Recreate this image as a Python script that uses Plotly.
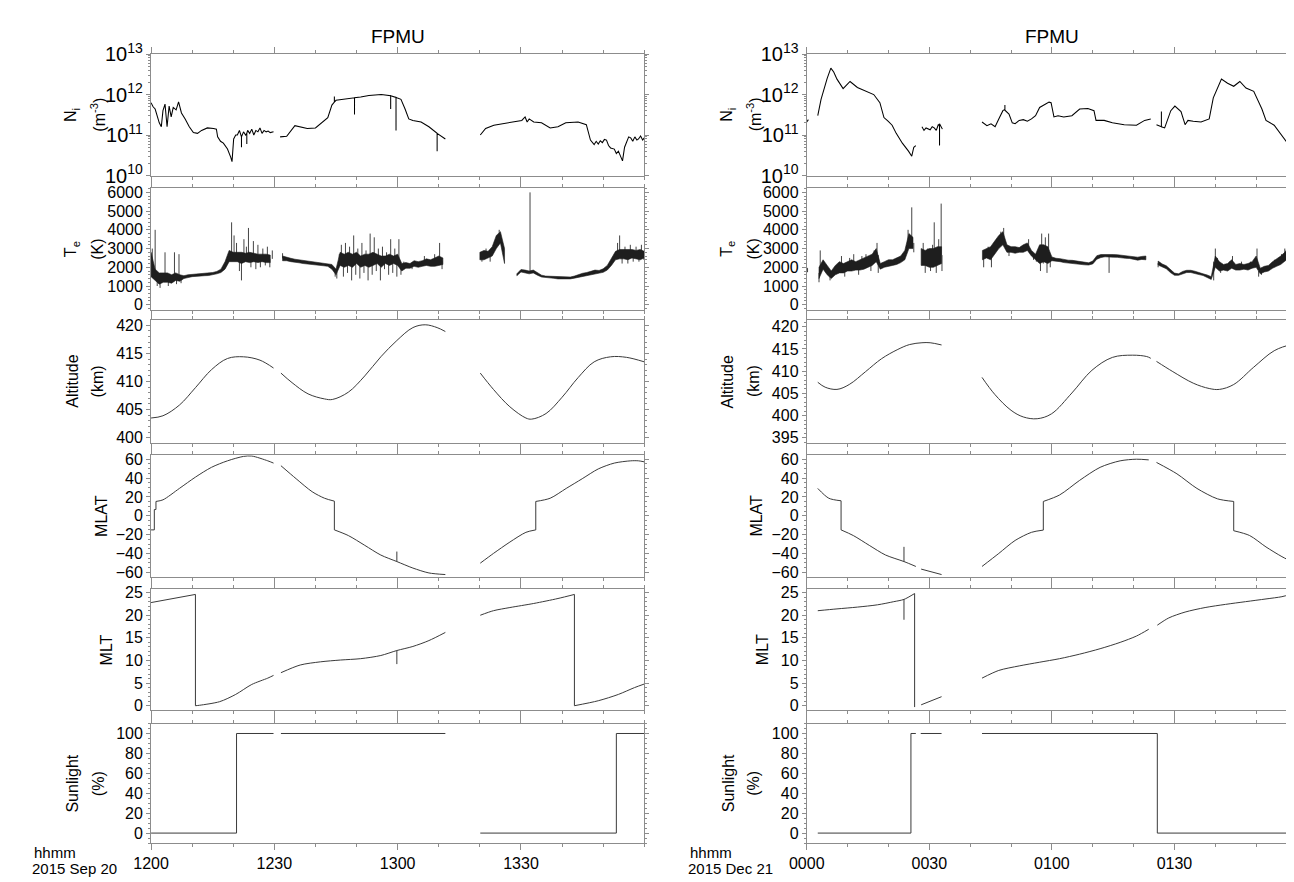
import plotly.graph_objects as go
from plotly.subplots import make_subplots

W, H = 1294, 882

# ---------------- data (minutes after start of each pass) ----------------
x_tickvals = [0, 30, 60, 90]
x_ticktext_l = ['1200', '1230', '1300', '1330']
x_ticktext_r = ['0000', '0030', '0100', '0130']
date_l = '2015 Sep 20'
date_r = '2015 Dec 21'

# Ion density, left pass
ni_l_t = [0.0, 0.5, 1.0, 1.5, 2.0, 2.5, 2.9, 3.4, 3.9, 4.4, 4.9, 5.4, 6.1, 6.7, 7.4, 8.3, 9.3, 10.3, 11.3,
          12.3, 13.7, 15.2, 15.9, 16.2, 16.9, 17.6, 18.6, 19.4, 19.7, 20.1, 20.6, 21.0, 21.5, 22.0, 22.0,
          22.0, 22.5, 23.0, 23.3, 23.3, 23.3, 23.5, 24.0, 24.5, 25.0, 25.5, 26.0, 26.5, 27.0, 27.5, 28.0,
          28.5, 29.0, 29.8, 30.6,
          31.4, 33.0, 35.0, 36.0, 38.0, 40.0, 42.0, 43.0, 44.0, 44.6, 44.6, 44.6, 45.0, 46.0, 48.0, 49.5,
          49.5, 49.5, 51.0, 53.0, 56.0, 58.0, 58.3, 58.3, 58.3, 59.6, 59.6, 59.6, 59.8, 60.8, 61.8, 62.7,
          63.7, 65.7, 67.6, 69.6, 69.6, 69.6, 71.6, 76.0,
          80.1, 81.4, 83.4, 87.3, 90.2, 91.0, 91.5, 92.0, 93.1, 95.0, 97.1, 99.0, 100.9, 103.9, 105.9,
          106.9, 107.8, 108.3, 108.8, 109.3, 109.8, 110.3, 110.8, 111.3, 111.8, 112.7, 113.2, 113.7,
          114.2, 114.7, 115.2, 115.7, 116.2, 116.7, 117.2, 117.7, 118.2, 118.6, 119.1, 119.6, 120.0]
ni_l = [6.3e11, 5.0e11, 4.4e11, 2.8e11, 2.0e11, 1.6e11, 4.0e11, 5.8e11, 1.6e11, 5.2e11, 2.8e11, 4.8e11,
        4.2e11, 6.6e11, 3.5e11, 2.5e11, 1.6e11, 1.15e11, 1.1e11, 1.3e11, 1.5e11, 1.45e11, 1.4e11, 9e10,
        7e10, 6.3e10, 4.5e10, 2.8e10, 2.2e10, 8e10, 1.0e11, 1.0e11, 1.3e11, 0.9e11, 5e10, 0.9e11, 1.2e11,
        1.0e11, 1.1e11, 6e10, 1.1e11, 1.3e11, 1.1e11, 1.4e11, 1.0e11, 1.3e11, 1.2e11, 1.5e11, 1.1e11,
        1.3e11, 1.2e11, 1.25e11, 1.15e11, 1.2e11, None,
        9e10, 9.3e10, 1.7e11, 1.6e11, 1.45e11, 1.5e11, 2.2e11, 2.7e11, 5.5e11, 6.5e11, 9e11, 6.5e11,
        7.2e11, 7.5e11, 8.0e11, 8.3e11, 3.2e11, 8.3e11, 8.7e11, 9.5e11, 1.0e12, 9.5e11, 9.4e11, 4.4e11,
        9.4e11, 8.5e11, 1.3e11, 8.5e11, 8.3e11, 7.6e11, 4.4e11, 2.5e11, 2.3e11, 2.1e11, 1.6e11, 1.1e11,
        4e10, 1.1e11, 8e10, None,
        1e11, 1.45e11, 1.75e11, 2.0e11, 2.3e11, 2.8e11, 2.1e11, 2.5e11, 2.1e11, 2.0e11, 1.5e11, 1.6e11,
        2.0e11, 2.1e11, 1.8e11, 7.5e10, 5.8e10, 7e10, 6e10, 7.2e10, 6.5e10, 7.8e10, 7.5e10, 5.5e10,
        4.8e10, 4.5e10, 3.5e10, 4e10, 3e10, 2.3e10, 5e10, 6.5e10, 9e10, 8.5e10, 7e10, 9e10, 7.5e10,
        8e10, 9.5e10, 7.5e10, 8.5e10]

# Ion density, right pass
ni_r_t = [0.0, 0.4, 1.5, 2.7, 3.5, 5.0, 5.9, 6.6, 7.4, 8.9, 10.6, 12.4, 14.4, 16.4, 17.9, 18.9, 19.9,
          20.9, 21.9, 23.4, 24.9, 25.7, 26.2, 26.7, 27.4,
          28.2, 28.7, 29.2, 29.7, 30.2, 30.7, 31.2, 31.7, 32.2, 32.5, 32.5, 32.5, 33.2, 38.0,
          42.9, 44.1, 45.1, 46.1, 47.0, 48.0, 48.5, 48.5, 48.5, 49.5, 50.3, 51.0, 52.0, 53.0, 54.0, 55.0,
          56.0, 57.0, 58.5, 59.3, 59.8, 60.5, 61.5, 62.9, 64.9, 66.8, 68.8, 70.3, 70.8, 72.8, 74.8, 77.7,
          80.7, 82.7, 84.2, 84.9,
          85.6, 86.3, 86.8, 86.8, 86.8, 87.6, 89.1, 90.1, 91.6, 92.6, 93.3, 94.6, 96.5, 98.5, 99.5, 101.5,
          103.0, 104.5, 106.0, 107.5, 109.4, 111.4, 112.4, 114.4, 116.3, 118.3, 119.8, 120.0]
ni_r = [2.1e11, 2.4e11, None, 3.0e11, 7.6e11, 2.5e12, 4.5e12, 3.6e12, 2.4e12, 1.4e12, 2.1e12, 1.5e12,
        1.2e12, 1.0e12, 6.3e11, 2.7e11, 2.2e11, 1.75e11, 1.1e11, 6.3e10, 4e10, 3e10, 5e10, 5.5e10, None,
        1.6e11, 1.3e11, 1.5e11, 1.4e11, 1.35e11, 1.6e11, 1.5e11, 1.3e11, 1.8e11, 1.7e11, 5.5e10, 1.9e11,
        1.4e11, None,
        2.1e11, 1.7e11, 1.9e11, 1.6e11, 2.5e11, 4e11, 4.3e11, 5.5e11, 4.1e11, 3.3e11, 2.0e11, 1.9e11,
        2.3e11, 2.4e11, 2.2e11, 2.5e11, 3e11, 4.8e11, 5.8e11, 6.5e11, 6.3e11, 2.8e11, 3.0e11, 2.8e11,
        3.0e11, 4.4e11, 4.5e11, 4.0e11, 2.3e11, 2.3e11, 2.0e11, 1.8e11, 1.75e11, 2.3e11, 2.5e11, None,
        1.8e11, 1.7e11, 1.6e11, 3.8e11, 1.6e11, 1.5e11, 4e11, 5.2e11, 3.8e11, 1.8e11, 2.3e11, 2.2e11,
        2.1e11, 2.5e11, 8.3e11, 2.4e12, 1.9e12, 1.6e12, 2.1e12, 1.45e12, 1.2e12, 4.4e11, 2.3e11, 1.75e11,
        1e11, 5.2e10, 3.3e10, 3e10]

# Electron temperature: dense core band per minute (lower / upper edge, None = no data)
te_minutes = list(range(121))
N = None
te_l_lo = [1500, 1300, 1100, 1200, 1200, 1150, 1300, 1250, 1400, 1450, 1500, 1530, 1540, 1550, 1560, 1600,
           1650, 1720, 1900, 2300, 2300, 2300, 2200, 2300, 2250, 2300, 2250, 2300, 2250, 2250, N, N,
           2350, 2350, 2300, 2260, 2240, 2200, 2170, 2150, 2120, 2100, 2080, 2050, 1900, 1600, 2100, 2000,
           2100, 2000, 2200, 2000, 2100, 2000, 2100, 2200, 2000, 2200, 2100, 2200, 2100, 1800, 1950, 1950,
           2050, 2000, 2050, 2100, 2050, 2050, 2100, 2150, N, N, N, N, N, N, N, N,
           2400, 2400, 2500, 2600, 3000, 3300, 2200, N, N,
           1550, 1750, 1680, 1650, 1700, 1580, 1480, 1430, 1420, 1410, 1380, 1380, 1370, 1380, 1420, 1470,
           1520, 1570, 1620, 1640, 1680, 1730, 1850, 2100, 2400, 2450, 2450, 2400, 2500, 2450, 2400, 2500]
te_l_hi = [2800, 1900, 1700, 1700, 1700, 1600, 1700, 1600, 1550, 1600, 1620, 1640, 1640, 1660, 1680, 1720,
           1780, 1900, 2300, 2900, 2800, 2800, 2800, 2750, 2800, 2750, 2700, 2700, 2700, 2650, N, N,
           2600, 2520, 2480, 2430, 2400, 2350, 2320, 2300, 2260, 2240, 2220, 2200, 2150, 1900, 2800, 2700,
           2800, 2700, 2800, 2600, 2700, 2700, 2800, 2700, 2600, 2600, 2700, 2600, 2700, 2200, 2250, 2200,
           2350, 2300, 2350, 2450, 2400, 2500, 2600, 2500, N, N, N, N, N, N, N, N,
           2800, 2900, 2850, 3100, 3700, 3900, 3000, N, N,
           1650, 1880, 1850, 1800, 1850, 1700, 1580, 1530, 1520, 1490, 1480, 1470, 1450, 1480, 1530, 1620,
           1680, 1720, 1770, 1850, 1830, 1920, 2100, 2500, 2850, 2950, 2950, 2950, 2950, 2900, 2950, 2850]
te_r_lo = [1750, N, N, 1400, 1900, 1600, 1400, 1600, 1700, 1700, 1800, 1800, 1850, 1850, 1900, 2000, 2100,
           2300, 1900, 2000, 2050, 2100, 2150, 2250, 2400, 3000, 3000, N, 2100, 2100, 2000, 2000, 2100,
           2200, N, N, N, N, N, N, N, N, N,
           2400, 2500, 2400, 2700, 3000, 3200, 2800, 2800, 2750, 2800, 2800, 2900, 2600, 2400, 2200, 2300,
           2200, 2350, 2320, 2300, 2250, 2230, 2220, 2180, 2150, 2130, 2120, 2180, 2430, 2520, 2560, 2560,
           2540, 2530, 2520, 2480, 2470, 2430, 2380, 2420, 2400, N, N,
           2120, 2020, 1920, 1720, 1570, 1570, 1660, 1720, 1720, 1670, 1610, 1560, 1470, 1350, 2000, 1800,
           1850, 1800, 1950, 1850, 1850, 1900, 1850, 1950, 2000, 1650, 1750, 1800, 1950, 2050, 2150, 2300,
           2500, 2500, 2700]
te_r_hi = [1950, N, N, 2000, 2400, 2100, 1800, 2100, 2300, 2200, 2300, 2400, 2300, 2400, 2500, 2600, 2700,
           3000, 2200, 2300, 2400, 2400, 2500, 2600, 2900, 3800, 3600, N, 3000, 2900, 3000, 3000, 3100,
           3100, N, N, N, N, N, N, N, N, N,
           2900, 3000, 3100, 3400, 3700, 3900, 3200, 3100, 3100, 3050, 3200, 3300, 2900, 2700, 3200, 3200,
           3100, 2550, 2480, 2460, 2400, 2380, 2370, 2330, 2280, 2270, 2240, 2330, 2620, 2680, 2690, 2700,
           2680, 2670, 2640, 2630, 2620, 2580, 2540, 2580, 2600, N, N,
           2330, 2180, 2080, 1880, 1690, 1650, 1780, 1840, 1840, 1790, 1700, 1650, 1590, 1500, 2600, 2300,
           2150, 2200, 2400, 2150, 2200, 2150, 2200, 2300, 2600, 1950, 2050, 2100, 2300, 2450, 2600, 2800,
           3100, 3300, 3500]

# Electron temperature: isolated excursions (time, value) that stick out of the core band
te_l_spk_t = [0.3, 1.0, 1.5, 2.2, 3.4, 4.2, 5.7, 6.2, 6.8, 7.3, 19.6, 20.2, 20.8, 21.5, 22.0, 22.6, 23.2,
              23.7, 24.3, 24.9, 25.5, 26.0, 26.6, 27.2, 27.8, 28.3, 28.9, 29.5, 32.0, 44.8, 45.2, 45.8,
              46.3, 46.8, 47.3, 47.8, 48.3, 48.8, 49.3, 49.8, 50.3, 50.8, 51.3, 51.8, 52.3, 52.8, 53.3,
              53.8, 54.3, 54.8, 55.3, 55.8, 56.3, 56.8, 57.3, 57.8, 58.3, 58.8, 59.3, 59.8, 60.3, 60.8,
              61.5, 63.5, 66.5, 69.0, 70.2, 70.8, 80.5, 81.5, 82.5, 83.3, 84.7, 92.2, 111.8, 113.5, 114.0,
              114.6, 115.3, 116.0, 116.6, 117.3, 118.0, 118.7, 119.3, 119.9]
te_l_spk = [3000, 4000, 1000, 900, 2800, 1000, 2800, 1100, 2700, 1150, 4400, 3700, 3300, 1800, 1300, 3500,
            3100, 4100, 2000, 3400, 1900, 3200, 2000, 3000, 2100, 3100, 2000, 2900, 2750, 1500, 1400, 2700,
            3200, 1500, 3300, 1700, 3100, 1300, 3700, 1600, 3000, 1400, 3300, 1700, 2900, 1300, 3800, 1600,
            3600, 1800, 3000, 1300, 3100, 1900, 2800, 1600, 3500, 1700, 3000, 1500, 3500, 1600, 2300, 1900,
            2600, 2700, 3300, 1900, 2300, 3000, 2300, 3200, 4000, 6000, 2300, 3300, 3700, 2200, 3100, 2200,
            3200, 2300, 3100, 2300, 3200, 2400]
te_r_spk_t = [3.0, 3.3, 5.7, 8.5, 9.3, 10.5, 11.5, 12.7, 13.5, 14.5, 15.7, 16.5, 17.2, 17.5, 24.8, 25.7,
              26.2, 28.5, 29.0, 29.6, 30.3, 30.8, 31.2, 31.7, 32.3, 32.9, 33.1, 43.3, 44.4, 45.2, 45.8,
              46.6, 47.5, 48.2, 49.5, 54.3, 55.5, 56.2, 57.2, 57.5, 57.9, 58.4, 58.8, 59.2, 59.6, 74.0,
              86.0, 99.6, 100.0, 100.5, 101.3, 103.5, 104.2, 106.4, 108.6, 109.6, 110.2, 110.6, 111.3,
              114.5, 116.2, 117.0, 118.2, 119.0, 119.5, 120.0]
te_r_spk = [1200, 2900, 1300, 2600, 1500, 2500, 2700, 1600, 2600, 2700, 1800, 2900, 3300, 1700, 4000, 5200,
            2800, 3300, 1700, 3000, 1800, 3200, 4400, 1700, 3500, 5400, 1800, 2000, 3100, 2000, 3200, 3500,
            3900, 4100, 2600, 3500, 2400, 2300, 1800, 3800, 2200, 3600, 1700, 3800, 2000, 1700, 2000, 1300,
            3000, 2500, 1700, 2300, 2600, 2300, 2300, 2400, 3000, 1500, 1600, 2400, 2700, 3000, 3200, 4400,
            2400, 3700]

# Altitude (km)
alt_l_t = [0, 2.9, 6.9, 10.8, 14.7, 18.6, 22.5, 26.5, 29.8, 30.6, 31.6, 34.3, 38.2, 42.2, 44.1, 48, 52,
           55.9, 59.8, 63.7, 66.7, 69.6, 71.6, 76, 80.1, 83.3, 87.3, 91.2, 92.6, 96.1, 100, 103.9, 107.8,
           111.8, 115.7, 120]
alt_l = [403.5, 403.9, 405.8, 408.9, 412.1, 414.1, 414.4, 413.8, 412.4, None, 411.5, 409.8, 407.8, 406.9,
         406.8, 408.1, 411.0, 414.4, 417.3, 419.6, 420.1, 419.6, 418.9, None, 411.5, 408.6, 405.5, 403.5,
         403.3, 404.3, 407.2, 410.7, 413.5, 414.4, 414.3, 413.5]
alt_r_t = [2.7, 4.5, 7.4, 10.4, 14.4, 18.3, 22.3, 25.2, 28.2, 30.2, 33.0, 38, 42.9, 46, 50, 53, 56.4,
           59.9, 64.9, 69.8, 74.8, 79.7, 83.2, 84.2, 84.9, 85.6, 89.6, 94.6, 98.5, 101, 104.5, 109.4,
           114.4, 118.3, 120]
alt_r = [407.5, 406.4, 405.9, 407.0, 409.9, 412.8, 414.9, 416.0, 416.4, 416.4, 415.9, None, 408.6, 404.8,
         401.2, 399.7, 399.3, 400.4, 405.1, 410.2, 413.1, 413.6, 413.3, 412.9, None, 412.2, 409.9, 407.3,
         406.1, 405.9, 407.0, 410.9, 414.6, 415.9, 416.0]

# Magnetic latitude (deg); each inner list is one continuous piece
mlat_l_t = [[0, 0.8], [0.8, 1.2], [1.2, 2.9, 6.9, 10.8, 14.7, 18.6, 22.5, 24.5, 28.4, 29.8],
            [31.6, 35.3, 39.2, 42.2, 44.6], [44.6, 48, 52, 55.9, 59.8, 63.7, 67.6, 71.6], [59.8, 59.8],
            [80.1, 83.3, 87.3, 91.2, 93.6], [93.6, 97.1, 101, 104.9, 108.8, 112.7, 116.7, 118.6, 120],
            [44.6, 44.6], [0.8, 0.8], [1.2, 1.2], [93.6, 93.6]]
mlat_l = [[-15, -15], [6.6, 6.6], [15.2, 16.9, 29, 41, 51.4, 58.3, 63, 63.4, 58.3, 55.9],
          [53.1, 39.3, 25.5, 18.6, 15.5], [-15, -21, -31.4, -41.7, -48.6, -55.5, -60.7, -62.4], [-48.6, -38],
          [-50.3, -40, -27.9, -17.6, -15], [15.2, 18.6, 29, 39.3, 49.7, 55.9, 58.3, 58.3, 57.2],
          [15.5, -15], [-15, 6.6], [6.6, 15.2], [-15, 15.2]]
mlat_r_t = [[2.7, 5.4, 8.4], [8.4, 11.4, 15.3, 19.3, 23.8, 26.7], [23.8, 23.8], [28, 33],
            [42.9, 47, 51, 55, 57.9], [57.9, 61.9, 66.8, 71.8, 76.7, 80.7, 83.7],
            [85.6, 90.6, 95.5, 100.5, 104.5], [104.5, 108.4, 112.4, 116.3, 120],
            [8.4, 8.4], [57.9, 57.9], [104.5, 104.5]]
mlat_r = [[29, 18.6, 15.9], [-15, -21, -31.4, -41.7, -48.6, -53.8], [-48.6, -33], [-56.6, -62.4],
          [-53.8, -40, -26.2, -17.6, -15.2], [15.2, 22.1, 37.6, 51.4, 58.3, 60, 59.3],
          [56.6, 44.5, 29, 18, 15.2], [-15.9, -21, -33.1, -43.4, -51.5],
          [15.9, -15], [-15.2, 15.2], [15.2, -15.9]]

# Magnetic local time (h)
mlt_l_t = [[0, 10.8], [10.8, 10.8], [10.8, 11.8, 16.7, 20.6, 24.5, 28.4, 29.8],
           [31.6, 36.3, 41.2, 46.1, 51, 55.9, 59.8, 63.7, 67.6, 71.6], [59.8, 59.8],
           [80.1, 83.3, 87.3, 93.1, 99, 103], [103, 103], [103, 108.8, 113.7, 117.6, 120]]
mlt_l = [[22.8, 24.6], [24.6, 0], [0, 0.1, 0.9, 2.5, 4.7, 6.1, 6.7],
         [7.3, 9.0, 9.7, 10.1, 10.4, 11.1, 12.2, 13.1, 14.4, 16.2], [12.2, 9.2],
         [20, 21, 21.7, 22.6, 23.7, 24.6], [24.6, 0], [0, 1.1, 2.5, 4.0, 4.8]]
mlt_r_t = [[2.7, 7.4, 12.4, 17.3, 21.3, 23.8, 26.4], [23.8, 23.8], [26.4, 26.4], [28, 33],
           [42.9, 47, 52, 56.9, 61.9, 66.8, 71.8, 76.7, 80.7, 83.7],
           [85.8, 88.6, 92.6, 97.5, 102.5, 107.4, 112.4, 116.3, 118.3], [118.3, 118.3], [118.3, 118.8, 120]]
mlt_r = [[21.0, 21.4, 21.8, 22.3, 23.0, 23.5, 24.8], [23.5, 19.0], [24.8, -0.3], [0.2, 2.0],
         [6.1, 7.8, 8.8, 9.6, 10.4, 11.4, 12.6, 14.0, 15.4, 16.9],
         [17.8, 19.4, 20.7, 21.7, 22.4, 23.0, 23.6, 24.1, 24.6], [24.6, -0.3], [-0.3, -0.2, 0.2]]

# Sunlight (%)
sun_l_t = [0, 20.8, 20.8, 29.8, 30.6, 31.6, 71.6, 76, 80.1, 113.2, 113.2, 120]
sun_l = [0, 0, 100, 100, None, 100, 100, None, 0, 0, 100, 100]
sun_r_t = [2.7, 25.5, 25.5, 26.7, 27.2, 27.9, 33.0, 38, 42.9, 85.8, 85.8, 118.1, 118.1, 120]
sun_r = [0, 0, 100, 100, None, 100, 100, None, 100, 100, 0, 0, 100, 100]


def band_polygons(minutes, lo, hi):
    """Closed outline of every continuous run of the core band."""
    xs, ys = [], []
    run = []
    for t, a, b in list(zip(minutes, lo, hi)) + [(None, None, None)]:
        if a is None:
            if run:
                if len(run) == 1:
                    t0, a0, b0 = run[0]
                    run = [(t0 - 0.2, a0, b0), (t0 + 0.2, a0, b0)]
                xs += [p[0] for p in run] + [p[0] for p in reversed(run)] + [run[0][0], None]
                ys += [p[2] for p in run] + [p[1] for p in reversed(run)] + [run[0][2], None]
            run = []
        else:
            run.append((t, a, b))
    return xs, ys


def needles(spk_t, spk_v, minutes, lo, hi):
    xs, ys = [], []
    for t, v in zip(spk_t, spk_v):
        i = min(range(len(minutes)), key=lambda k: abs(minutes[k] - t))
        if lo[i] is None:
            continue
        base = (lo[i] + hi[i]) / 2
        xs += [t, t, None]
        ys += [base, v, None]
    return xs, ys


# ---------------- figure ----------------
fig = make_subplots(rows=6, cols=2)

COL_X = [(127, 628), (793, 1291)]
ROW_Y = [(33, 158), (171, 296), (307, 433), (446, 571), (584, 708), (722, 845)]
GREY = '#8c8c8c'
FONT = 'Liberation Sans, Arial, sans-serif'

thick = dict(color='black', width=1.05)
thin = dict(color='#3a3a3a', width=1)


def add(x, y, row, col, line, shape='linear', fill=None):
    fig.add_trace(go.Scatter(x=x, y=y, mode='lines', line=dict(**line, shape=shape),
                             fill=fill, fillcolor='#1e1e1e' if fill else None,
                             connectgaps=False, showlegend=False, hoverinfo='skip'),
                  row=row, col=col)


def add_pieces(ts, vs, row, col):
    for t, v in zip(ts, vs):
        shape = 'spline' if len(t) > 2 else 'linear'
        fig.add_trace(go.Scatter(x=t, y=v, mode='lines',
                                 line=dict(color='#3a3a3a', width=1, shape=shape, smoothing=0.8),
                                 showlegend=False, hoverinfo='skip'), row=row, col=col)


add(ni_l_t, ni_l, 1, 1, thick)
add(ni_r_t, ni_r, 1, 2, thick)
for col, lo, hi, st, sv in [(1, te_l_lo, te_l_hi, te_l_spk_t, te_l_spk),
                            (2, te_r_lo, te_r_hi, te_r_spk_t, te_r_spk)]:
    add(*needles(st, sv, te_minutes, lo, hi), 2, col, dict(color='#444444', width=1))
    add(*band_polygons(te_minutes, lo, hi), 2, col, dict(color='#1e1e1e', width=0.6), fill='toself')
add(alt_l_t, alt_l, 3, 1, thin, 'spline')
add(alt_r_t, alt_r, 3, 2, thin, 'spline')
add_pieces(mlat_l_t, mlat_l, 4, 1)
add_pieces(mlat_r_t, mlat_r, 4, 2)
add_pieces(mlt_l_t, mlt_l, 5, 1)
add_pieces(mlt_r_t, mlt_r, 5, 2)
add(sun_l_t, sun_l, 6, 1, thin)
add(sun_r_t, sun_r, 6, 2, thin)

y_cfg = [
    dict(type='log', range=[10, 13], dtick=1, exponentformat='power',
         minor=dict(ticks='outside', ticklen=2, tickcolor=GREY, dtick='D1')),
    dict(range=[-260, 6225], dtick=1000, minor=dict(ticks='outside', ticklen=2, tickcolor=GREY, dtick=200)),
    None,
    dict(range=[-64.8, 64.1], dtick=20, minor=dict(ticks='outside', ticklen=2, tickcolor=GREY, dtick=5)),
    dict(range=[-0.93, 25.7], dtick=5, minor=dict(ticks='outside', ticklen=2, tickcolor=GREY, dtick=1)),
    dict(range=[-10, 110], dtick=20, tick0=0, minor=dict(ticks='outside', ticklen=2, tickcolor=GREY, dtick=5)),
]
alt_ranges = [[399.1, 420.9], [393.9, 421.45]]

for r in range(6):
    for c in range(2):
        n = r * 2 + c + 1
        sfx = '' if n == 1 else str(n)
        x0, x1 = COL_X[c]
        ytop, ybot = ROW_Y[r]
        xa = dict(domain=[x0 / W, x1 / W], range=[0, 120], tickvals=x_tickvals,
                  ticktext=x_ticktext_l if c == 0 else x_ticktext_r,
                  showticklabels=(r == 5), ticks='outside', ticklen=6, tickcolor=GREY,
                  showline=True, linecolor=GREY, linewidth=1, mirror='ticks',
                  showgrid=False, zeroline=False,
                  minor=dict(ticks='outside', ticklen=3, tickcolor=GREY, dtick=10, tick0=0),
                  tickfont=dict(size=16, color='black', family=FONT))
        if r == 2:
            ya = dict(range=alt_ranges[c], dtick=5,
                      minor=dict(ticks='outside', ticklen=2, tickcolor=GREY, dtick=1))
        else:
            ya = dict(y_cfg[r])
        ya.update(domain=[1 - ybot / H, 1 - ytop / H], ticks='outside', ticklen=4, tickcolor=GREY,
                  showline=True, linecolor=GREY, linewidth=1, mirror='ticks',
                  showgrid=False, zeroline=False, tickfont=dict(size=16, color='black', family=FONT))
        fig.layout['xaxis' + sfx].update(xa)
        fig.layout['yaxis' + sfx].update(ya)

# axis titles, panel titles and date labels as annotations
ann = []


def note(text, xp, yp, size=16, angle=0, xanchor='center'):
    ann.append(dict(text=text, x=xp / W, y=1 - yp / H, xref='paper', yref='paper', showarrow=False,
                    textangle=angle, xanchor=xanchor, yanchor='middle',
                    font=dict(size=size, color='black', family=FONT)))


ytitles = [
    ('N<sub>i</sub>', '(m<sup>-3</sup>)'),
    ('T<sub>e</sub>', '(K)'),
    ('Altitude', '(km)'),
    ('MLAT', None),
    ('MLT', None),
    ('Sunlight', '(%)'),
]
single_x = {3: 76, 4: 82}
for c, shift in enumerate([0, 666]):
    note('FPMU', (COL_X[c][0] + COL_X[c][1]) / 2, 15, size=19)
    for r, (l1, l2) in enumerate(ytitles):
        yc = (ROW_Y[r][0] + ROW_Y[r][1]) / 2
        if l2 is None:
            note(l1, single_x[r] + shift, yc, angle=-90)
        else:
            note(l1, 47 + shift, yc, angle=-90)
            note(l2, 73 + shift, yc, angle=-90)
    note('hhmm', 6 + shift, 855, size=15, xanchor='left')
    note(date_l if c == 0 else date_r, 4 + shift, 871, size=15, xanchor='left')

fig.update_layout(width=W, height=H, margin=dict(l=0, r=0, t=0, b=0),
                  paper_bgcolor='white', plot_bgcolor='white',
                  font=dict(family=FONT, size=16, color='black'),
                  annotations=ann, showlegend=False)

fig.write_html('out.html')
